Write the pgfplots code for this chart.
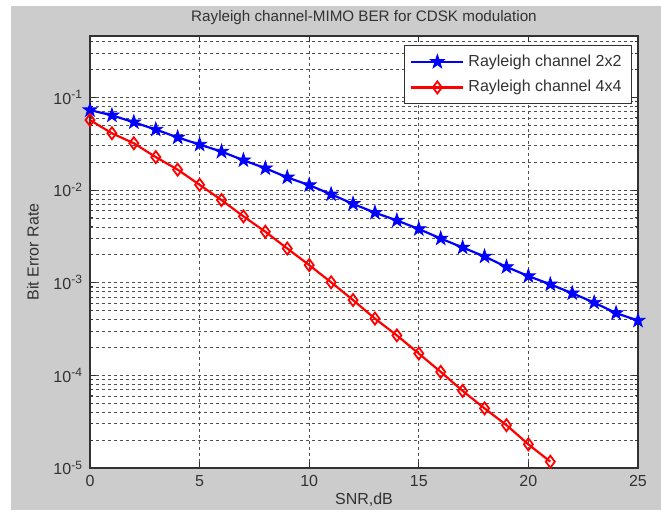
\documentclass[border=0pt]{standalone}
\usepackage{pgfplots}
\pgfplotsset{compat=1.18}
\usepackage{fontspec}
\setmainfont{Liberation Sans}

\definecolor{figgray}{RGB}{204,204,204}
\definecolor{txtgray}{RGB}{50,50,50}
\definecolor{gridgray}{RGB}{80,80,80}
\definecolor{mblue}{RGB}{0,0,255}
\definecolor{mred}{RGB}{255,0,0}

% filled five-pointed star, like MATLAB's pentagram marker
\pgfdeclareplotmark{pentagram}{%
  \pgfpathmoveto{\pgfpointpolar{90}{1.35\pgfplotmarksize}}%
  \pgfpathlineto{\pgfpointpolar{126}{0.52\pgfplotmarksize}}%
  \pgfpathlineto{\pgfpointpolar{162}{1.35\pgfplotmarksize}}%
  \pgfpathlineto{\pgfpointpolar{198}{0.52\pgfplotmarksize}}%
  \pgfpathlineto{\pgfpointpolar{234}{1.35\pgfplotmarksize}}%
  \pgfpathlineto{\pgfpointpolar{270}{0.52\pgfplotmarksize}}%
  \pgfpathlineto{\pgfpointpolar{306}{1.35\pgfplotmarksize}}%
  \pgfpathlineto{\pgfpointpolar{342}{0.52\pgfplotmarksize}}%
  \pgfpathlineto{\pgfpointpolar{18}{1.35\pgfplotmarksize}}%
  \pgfpathlineto{\pgfpointpolar{54}{0.52\pgfplotmarksize}}%
  \pgfpathclose
  \pgfusepathqfillstroke}

\pgfplotstableread{
snr ber
0 0.073
1 0.064
2 0.054
3 0.045
4 0.037
5 0.031
6 0.026
7 0.021
8 0.0172
9 0.0137
10 0.0113
11 0.0090
12 0.0071
13 0.0057
14 0.0047
15 0.0038
16 0.0030
17 0.0024
18 0.00192
19 0.00148
20 0.00118
21 0.00096
22 0.00077
23 0.00061
24 0.00047
25 0.00039
}\twobytwo

\pgfplotstableread{
snr ber
0 0.057
1 0.041
2 0.032
3 0.0227
4 0.0166
5 0.0114
6 0.0078
7 0.0052
8 0.00355
9 0.00234
10 0.00155
11 0.00101
12 0.00065
13 0.00041
14 0.00027
15 0.000172
16 0.000109
17 6.8e-5
18 4.4e-5
19 2.9e-5
20 1.8e-5
21 1.17e-5
}\fourbyfour

\begin{document}
\begin{tikzpicture}[x=1pt,y=1pt]
\fill[white] (0,0) rectangle (330.5,255);
\fill[figgray] (5.5,0) rectangle (330.5,252);
\begin{axis}[
  at={(45pt,21pt)}, anchor=south west,
  scale only axis, width=274pt, height=216pt,
  ymode=log, log basis y=10,
  xmin=0, xmax=25, ymin=1e-5, ymax=0.46,
  axis background/.style={fill=white},
  axis line style={draw=txtgray, line width=0.6pt},
  font=\fontsize{8}{9.5}\selectfont, text=txtgray,
  xtick={0,5,10,15,20,25},
  xticklabels={0,5,10,15,20,25},
  ytick={1e-5,1e-4,1e-3,1e-2,1e-1},
  yticklabels={10\textsuperscript{-5},10\textsuperscript{-4},10\textsuperscript{-3},10\textsuperscript{-2},10\textsuperscript{-1}},
  minor ytick={2e-5,3e-5,4e-5,5e-5,6e-5,7e-5,8e-5,9e-5,
    2e-4,3e-4,4e-4,5e-4,6e-4,7e-4,8e-4,9e-4,
    2e-3,3e-3,4e-3,5e-3,6e-3,7e-3,8e-3,9e-3,
    2e-2,3e-2,4e-2,5e-2,6e-2,7e-2,8e-2,9e-2,
    0.2,0.3,0.4},
  tick align=inside,
  major tick length=3pt, minor tick length=1.6pt,
  tick style={draw=txtgray, line width=0.5pt},
  grid=both,
  major grid style={draw=gridgray, line width=0.4pt, dash pattern=on 1.5pt off 1.5pt},
  minor grid style={draw=gridgray, line width=0.4pt, dash pattern=on 1.5pt off 1.5pt},
  every axis title shift=0pt,
  title={Rayleigh channel-MIMO BER for CDSK modulation},
  title style={at={(axis description cs:0.5,1.042)}, anchor=center,
    inner sep=0pt, font=\fontsize{7.6}{9}\selectfont},
  xlabel={SNR,dB},
  xlabel style={at={(axis description cs:0.5,-0.074)}, anchor=center},
  ylabel={Bit Error Rate},
  ylabel style={at={(axis description cs:-0.104,0.5)}, anchor=center},
  clip=false,
  legend style={at={(axis description cs:0.989,0.979)}, anchor=north east,
    draw=txtgray, fill=white, line width=0.5pt,
    font=\fontsize{8}{9.5}\selectfont, text=txtgray,
    row sep=1.5pt, inner xsep=3pt, inner ysep=2.5pt},
  legend cell align=left,
  legend image code/.code={%
    \draw[mark repeat=2, mark phase=2] plot coordinates {(0pt,0pt) (13pt,0pt) (26pt,0pt)};},
]
\addplot[mblue, line width=1.1pt, mark=pentagram, mark size=2.7pt,
  mark options={solid, fill=mblue, line width=0.4pt}] table[x=snr, y=ber] {\twobytwo};
\addlegendentry{Rayleigh channel 2x2}
\addplot[mred, line width=1.1pt, mark=diamond, mark size=3pt,
  mark options={solid, fill=mred!15, line width=0.9pt}] table[x=snr, y=ber] {\fourbyfour};
\addlegendentry{Rayleigh channel 4x4}
\end{axis}
\end{tikzpicture}
\end{document}
